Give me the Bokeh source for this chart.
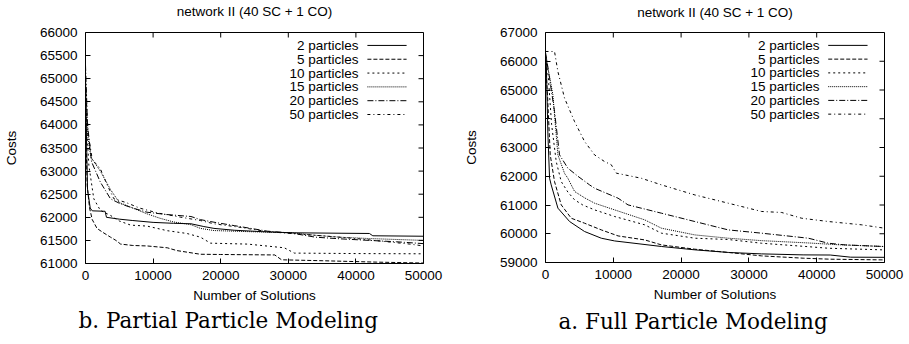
from bokeh.plotting import figure
from bokeh.layouts import row
from bokeh.models import LinearAxis, FixedTicker, Title, Range1d
from bokeh.core.properties import value
from bokeh.embed import file_html
from bokeh.resources import INLINE

# ---------------- data ----------------
chart_title = "network II (40 SC + 1 CO)"
x_label = "Number of Solutions"
y_label = "Costs"
series_names = ["2 particles", "5 particles", "10 particles",
                "15 particles", "20 particles", "50 particles"]
x_ticks = [0, 10000, 20000, 30000, 40000, 50000]

# b. Partial Particle Modeling (left)
partial_y_ticks = [61000, 61500, 62000, 62500, 63000, 63500, 64000, 64500, 65000, 65500, 66000]
partial_x2 = [0, 300, 700, 1000, 2900, 3100, 5000, 7000, 10000, 13000, 15600, 17500, 19000, 22000, 26000, 30400, 37800, 42000, 42500, 50000]
partial_y2 = [64800, 62600, 62200, 62140, 62130, 62000, 61960, 61930, 61890, 61870, 61860, 61800, 61760, 61720, 61690, 61665, 61655, 61650, 61600, 61590]
partial_x5 = [0, 100, 250, 600, 1000, 1700, 2500, 3700, 4500, 5200, 7000, 9100, 12100, 13500, 17000, 20000, 28000, 29000, 35000, 43000, 50000]
partial_y5 = [65200, 63500, 62690, 62200, 61950, 61760, 61680, 61570, 61500, 61420, 61390, 61380, 61340, 61280, 61200, 61195, 61185, 61080, 61060, 61030, 61010]
partial_x10 = [0, 200, 500, 1230, 2200, 3700, 5000, 6700, 9100, 12100, 15000, 17000, 18500, 24000, 29400, 30900, 40000, 50000]
partial_y10 = [65000, 63900, 63120, 62400, 62150, 62040, 61920, 61830, 61810, 61710, 61650, 61570, 61440, 61420, 61340, 61225, 61215, 61210]
partial_x15 = [0, 300, 800, 2200, 3700, 5000, 7000, 9000, 11000, 13000, 15600, 17000, 19000, 24000, 30400, 34000, 37800, 42000, 46000, 50000]
partial_y15 = [64600, 63800, 63300, 63000, 62600, 62320, 62200, 62080, 61980, 61900, 61840, 61760, 61713, 61690, 61665, 61610, 61568, 61540, 61520, 61500]
partial_x20 = [0, 300, 900, 2200, 3700, 5200, 7000, 9100, 12000, 15600, 17000, 19000, 22000, 26900, 30400, 34000, 37800, 42000, 46000, 50000]
partial_y20 = [65300, 64000, 63200, 62760, 62400, 62290, 62200, 62110, 62060, 62017, 61950, 61894, 61820, 61700, 61660, 61570, 61533, 61500, 61470, 61430]
partial_x50 = [0, 400, 1000, 2200, 3200, 4200, 6000, 8000, 10600, 14100, 17000, 19000, 23000, 26900, 30400, 35000, 40000, 44000, 48000, 50000]
partial_y50 = [64900, 63800, 63250, 63050, 62700, 62400, 62320, 62200, 62096, 62002, 61930, 61860, 61780, 61690, 61650, 61600, 61540, 61480, 61420, 61380]

# a. Full Particle Modeling (right)
full_y_ticks = [59000, 60000, 61000, 62000, 63000, 64000, 65000, 66000, 67000]
full_x2 = [0, 100, 350, 600, 840, 1830, 3550, 5760, 8230, 10200, 12170, 17100, 22030, 26950, 31870, 38000, 42000, 45000, 50000]
full_y2 = [66200, 66100, 63500, 61930, 61700, 60890, 60426, 60078, 59845, 59750, 59695, 59557, 59440, 59350, 59300, 59265, 59260, 59185, 59180]
full_x5 = [0, 300, 700, 1330, 2320, 3800, 5760, 8230, 10700, 14630, 17100, 22030, 26950, 31870, 38000, 42000, 50000]
full_y5 = [66000, 64800, 62743, 61815, 61004, 60540, 60367, 60134, 59925, 59786, 59612, 59462, 59350, 59230, 59150, 59115, 59090]
full_x10 = [0, 400, 900, 1580, 2320, 3300, 4290, 5500, 7240, 10200, 14630, 17100, 22030, 26950, 31870, 38770, 41730, 50000]
full_y10 = [66100, 65500, 63800, 62510, 61815, 61450, 61180, 61000, 60830, 60600, 60310, 60020, 59845, 59800, 59670, 59550, 59496, 59438]
full_x15 = [0, 500, 1090, 1830, 2810, 3300, 4290, 5760, 7240, 10200, 14630, 17100, 22030, 26950, 31870, 38770, 43000, 50000]
full_y15 = [66300, 65600, 64830, 62743, 62100, 61930, 61470, 61250, 61063, 60830, 60483, 60193, 59960, 59845, 59760, 59680, 59620, 59555]
full_x20 = [0, 600, 1330, 2070, 3300, 4780, 6500, 7240, 10700, 12170, 17100, 22030, 26950, 31870, 38770, 41730, 44190, 50000]
full_y20 = [66300, 65400, 64252, 62743, 62280, 62000, 61700, 61583, 61237, 61004, 60715, 60425, 60134, 60020, 59845, 59670, 59612, 59555]
full_x50 = [0, 1330, 1830, 2810, 4290, 5760, 7240, 8720, 9700, 10450, 14140, 17100, 22030, 26950, 31870, 34830, 37780, 41730, 46650, 50000]
full_y50 = [66340, 66340, 65640, 64715, 63900, 63210, 62743, 62510, 62400, 62107, 61930, 61700, 61350, 61063, 60775, 60740, 60540, 60425, 60310, 60193]

# ---------------- styling ----------------
SANS = "Liberation Sans"
FS = "13.5px"
SERIF = "DejaVu Serif"
DASHES = ["solid", "4 2", "2 3", "1 1", "6 2 1 2", "3 3 1 3"]
TICK = 5


def build(frame, borders, y_range, y_ticks, xs, ys, caption, title_pad, cap_offset, cap_standoff):
    fw, fh = frame
    bl, br, bt, bb = borders
    p = figure(frame_width=fw, frame_height=fh, output_backend="svg", toolbar_location=None,
               x_range=Range1d(0, 50000), y_range=Range1d(*y_range),
               min_border_left=bl, min_border_right=br, min_border_top=bt,
               min_border_bottom=bb, x_axis_location=None, y_axis_location=None,
               title=None)
    p.grid.visible = False
    p.outline_line_color = "black"
    p.outline_line_width = 1
    p.background_fill_color = "white"
    p.border_fill_color = "white"

    def mk(ticks, label):
        ax = LinearAxis(ticker=FixedTicker(ticks=ticks))
        ax.axis_line_color = None
        ax.major_tick_in = TICK
        ax.major_tick_out = 0
        ax.major_tick_line_color = "black"
        ax.minor_tick_line_color = None
        ax.major_label_text_font = SANS
        ax.major_label_text_color = "black"
        ax.major_label_text_font_size = FS
        ax.axis_label = label
        ax.axis_label_text_font = SANS
        ax.axis_label_text_font_size = FS
        ax.axis_label_text_font_style = "normal"
        ax.axis_label_text_color = "black"
        return ax

    xb = mk(x_ticks, x_label)
    xb.major_label_standoff = 7
    xb.axis_label_standoff = 5
    yl = mk(y_ticks, y_label)
    yl.major_label_standoff = 8
    yl.axis_label_standoff = 18
    p.add_layout(xb, "below")
    p.add_layout(yl, "left")

    # mirrored inward ticks on the top and right edges
    y0, y1 = y_range
    span = y1 - y0
    dy = TICK / fh * span
    dx = TICK / fw * 50000
    p.segment(x0=x_ticks, y0=[y1] * len(x_ticks), x1=x_ticks, y1=[y1 - dy] * len(x_ticks),
              line_color="black", line_width=1)
    p.segment(x0=[50000] * len(y_ticks), y0=y_ticks, x1=[50000 - dx] * len(y_ticks), y1=y_ticks,
              line_color="black", line_width=1)

    ttl = Title(text=chart_title, align="center", text_font=SANS, text_font_size=FS,
                text_font_style="normal", text_color="black", standoff=0,
                padding=(0, 0, 0, title_pad))
    p.add_layout(ttl, "above")
    cap = Title(text=caption, align="left", offset=cap_offset,
                text_font=SERIF, text_font_size="21.5px",
                text_font_style="normal", text_color="black", standoff=cap_standoff)
    p.add_layout(cap, "below")

    for xv, yv, dash in zip(xs, ys, DASHES):
        p.line(xv, yv, line_color="black", line_width=1, line_dash=dash)

    # gnuplot-style key: label on the left, line sample on the right
    tx = 0.808 * 50000
    lx = [0.834 * 50000, 0.950 * 50000]
    rows = [y1 - (0.056 + 0.0598 * i) * span for i in range(len(series_names))]
    p.text(x=[tx] * len(series_names), y=rows, text=series_names,
           text_align="right", text_baseline="middle",
           text_font=value(SANS), text_font_size=FS, text_color="black")
    for ry, dash in zip(rows, DASHES):
        p.line(lx, [ry, ry], line_color="black", line_width=1, line_dash=dash)
    return p


left = build((338, 231), (85, 37, 32, 81), (61000, 66000), partial_y_ticks,
             [partial_x2, partial_x5, partial_x10, partial_x15, partial_x20, partial_x50],
             [partial_y2, partial_y5, partial_y10, partial_y15, partial_y20, partial_y50],
             "b. Partial Particle Modeling", 14, -7, 0)
right = build((339, 230), (84, 26, 29, 85), (59000, 67000), full_y_ticks,
              [full_x2, full_x5, full_x10, full_x15, full_x20, full_x50],
              [full_y2, full_y5, full_y10, full_y15, full_y20, full_y50],
              "a. Full Particle Modeling", 13, 13, 5)

layout = row(left, right, spacing=0)
open("out.html", "w").write(file_html(layout, INLINE))
